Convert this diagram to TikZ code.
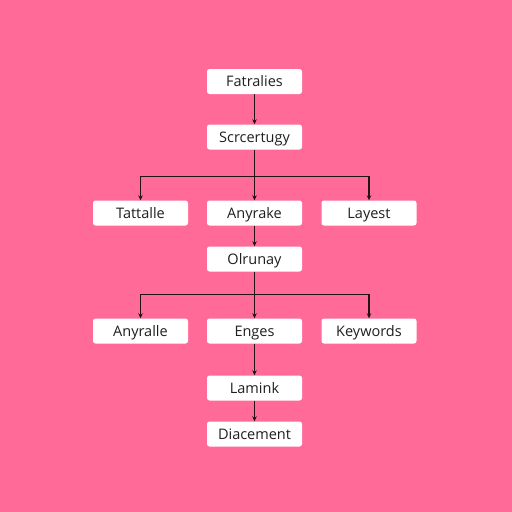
\documentclass[tikz,border=0pt]{standalone}
\usepackage{fontspec}
\setmainfont{Open Sans}
\usetikzlibrary{arrows.meta}
\definecolor{bg}{RGB}{255,106,152}
\definecolor{ln}{RGB}{35,20,25}
\begin{document}
\begin{tikzpicture}[x=1pt,y=-1pt,
  box/.style={draw=none,fill=white,rounded corners=2.5pt,minimum width=95pt,minimum height=25pt,inner sep=0pt,text height=10.4pt,text depth=0pt,font=\fontsize{14.5}{16}\selectfont,text=black!88},
  conn/.style={draw=ln,line width=1.1pt,-{Stealth[length=5pt,width=4.5pt]}},
  plain/.style={draw=ln,line width=1.1pt}]
\fill[bg] (0,0) rectangle (512,512);
\useasboundingbox (0,0) rectangle (512,512);
\node[box] (a) at (254.5,81.5) {Fatralies};
\node[box] (b) at (254.5,137) {Scrcertugy};
\node[box] (c1) at (140.5,213) {Tattalle};
\node[box] (c2) at (254.5,213) {Anyrake};
\node[box] (c3) at (369,213) {Layest};
\node[box] (d) at (254.5,259) {Olrunay};
\node[box] (e1) at (140.5,331) {Anyralle};
\node[box] (e2) at (254.5,331) {Enges};
\node[box] (e3) at (369,331) {Keywords};
\node[box] (f) at (254.5,388) {Lamink};
\node[box] (g) at (254.5,434) {Diacement};
\coordinate (j1) at (254.5,176.7);
\coordinate (j2) at (254.5,294.3);
\draw[conn] (a) -- (b);
\draw[plain] (b.south) -- (j1);
\draw[conn] (j1) -| (c1.north);
\draw[conn] (j1) -- (c2.north);
\draw[conn] (j1) -| (c3.north);
\draw[conn] (c2) -- (d);
\draw[plain] (d.south) -- (j2);
\draw[conn] (j2) -| (e1.north);
\draw[conn] (j2) -- (e2.north);
\draw[conn] (j2) -| (e3.north);
\draw[conn] (e2) -- (f);
\draw[conn] (f) -- (g);
\end{tikzpicture}
\end{document}
